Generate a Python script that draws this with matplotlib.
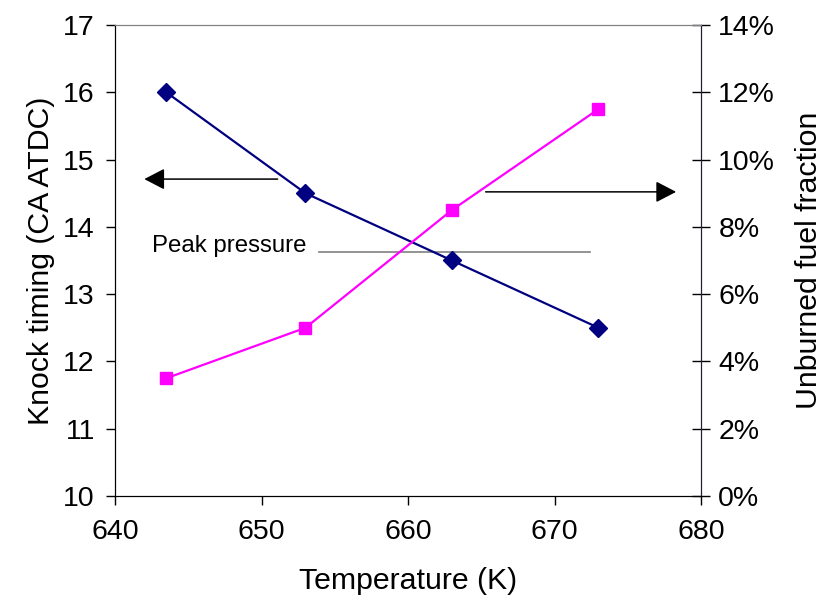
import matplotlib
matplotlib.use("Agg")
import matplotlib.pyplot as plt
from matplotlib.ticker import FuncFormatter

plt.rcParams['font.family'] = ['Liberation Sans', 'DejaVu Sans']

temperature = [643.5, 653, 663, 673]
knock_timing = [16.0, 14.5, 13.5, 12.5]
unburned_pct = [3.5, 5.0, 8.5, 11.5]

fig = plt.figure(figsize=(8.23, 6.04), dpi=100)
ax = fig.add_axes([115/823, 1-496/604, (701-115)/823, (496-25)/604])
ax2 = ax.twinx()

ax.plot(temperature, knock_timing, color='#000080', lw=1.6, marker='D',
        markersize=9, zorder=3)
ax2.plot(temperature, unburned_pct, color='#FF00FF', lw=1.6, marker='s',
         markersize=9, zorder=3)

ax.set_xlim(640, 680)
ax.set_ylim(10, 17)
ax2.set_ylim(0, 14)
ax.set_xticks([640, 650, 660, 670, 680])
ax.set_yticks(range(10, 18))
ax2.set_yticks(range(0, 15, 2))
ax2.yaxis.set_major_formatter(FuncFormatter(lambda v, p: f"{int(v)}%"))

fs = 20.5
lfs = 21.8
ax.tick_params(axis='both', labelsize=fs, length=6.5, width=1, direction='out', pad=8)
ax2.tick_params(axis='y', labelsize=fs, length=13, width=1, direction='inout', pad=6)
ax.tick_params(axis='x', pad=10)

for a in (ax, ax2):
    a.spines['top'].set_color('#808080')
    a.spines['left'].set_color('black')
    a.spines['bottom'].set_color('black')
    a.spines['right'].set_color('#202030')

ax.set_xlabel('Temperature (K)', fontsize=lfs, labelpad=16)
ax.set_ylabel('Knock timing (CA ATDC)', fontsize=lfs, labelpad=6)
ax2.set_ylabel('Unburned fuel fraction', fontsize=lfs, labelpad=14)

# annotations
astyle = '-|>,head_length=1.25,head_width=0.65'
ax.annotate('', xy=(642.0, 14.71), xytext=(651.1, 14.71),
            arrowprops=dict(arrowstyle=astyle, color='black', lw=1.1,
                            shrinkA=0, shrinkB=0))
ax.annotate('', xy=(678.3, 14.52), xytext=(665.3, 14.52),
            arrowprops=dict(arrowstyle=astyle, color='black', lw=1.1,
                            shrinkA=0, shrinkB=0))
ax.plot([653.9, 672.4], [13.63, 13.63], color='#808080', lw=1.2, zorder=2)
ax.text(642.5, 13.72, 'Peak pressure', fontsize=17.3, va='center', ha='left')

fig.savefig('out.png', dpi=100)
